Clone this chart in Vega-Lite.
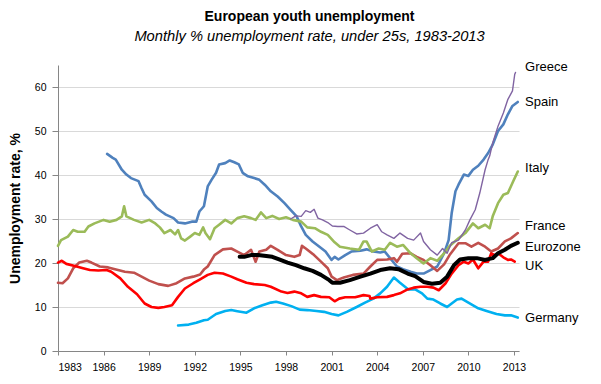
{
  "$schema": "https://vega.github.io/schema/vega-lite/v6.json",
  "width": 461,
  "height": 286,
  "autosize": {"type": "none"},
  "padding": {"left": 58, "top": 65, "right": 82, "bottom": 33},
  "background": "white",
  "title": {
    "text": "European youth unemployment",
    "subtitle": "Monthly % unemployment rate, under 25s, 1983-2013",
    "anchor": "middle", "frame": "group", "dx": 21, "offset": 17,
    "font": "Liberation Sans", "fontSize": 14, "fontWeight": "bold", "color": "#000000",
    "subtitleFont": "Liberation Sans", "subtitleFontStyle": "italic", "subtitleFontSize": 14.7, "subtitleColor": "#000000", "subtitlePadding": 5
  },
  "config": {
    "view": {"stroke": null},
    "axis": {"labelFont": "Liberation Sans", "labelColor": "#000000", "labelFontSize": 10.5, "domainColor": "#868686", "tickColor": "#868686", "titleFont": "Liberation Sans"}
  },
  "datasets": {
    "series": [
      {"s":"Germany","x":1990.9,"v":5.8},{"s":"Germany","x":1991.6,"v":6},{"s":"Germany","x":1992.1,"v":6.4},{"s":"Germany","x":1992.6,"v":7},{"s":"Germany","x":1992.85,"v":7.1},{"s":"Germany","x":1993.4,"v":8.4},{"s":"Germany","x":1994,"v":9.1},{"s":"Germany","x":1994.4,"v":9.3},{"s":"Germany","x":1994.8,"v":9.05},{"s":"Germany","x":1995.4,"v":8.7},{"s":"Germany","x":1995.9,"v":9.7},{"s":"Germany","x":1996.45,"v":10.4},{"s":"Germany","x":1997,"v":11},{"s":"Germany","x":1997.35,"v":11.2},{"s":"Germany","x":1997.8,"v":10.8},{"s":"Germany","x":1998.35,"v":10.2},{"s":"Germany","x":1998.9,"v":9.4},{"s":"Germany","x":1999.4,"v":9.3},{"s":"Germany","x":2000,"v":9.1},{"s":"Germany","x":2000.5,"v":8.9},{"s":"Germany","x":2001,"v":8.4},{"s":"Germany","x":2001.45,"v":8.1},{"s":"Germany","x":2002,"v":8.9},{"s":"Germany","x":2002.65,"v":10},{"s":"Germany","x":2003.2,"v":11},{"s":"Germany","x":2003.75,"v":11.9},{"s":"Germany","x":2004.2,"v":13.1},{"s":"Germany","x":2004.65,"v":14.6},{"s":"Germany","x":2005.1,"v":16.7},{"s":"Germany","x":2005.5,"v":15.5},{"s":"Germany","x":2006.05,"v":14},{"s":"Germany","x":2006.5,"v":14},{"s":"Germany","x":2006.95,"v":13.1},{"s":"Germany","x":2007.3,"v":11.9},{"s":"Germany","x":2007.7,"v":11.7},{"s":"Germany","x":2008.15,"v":10.8},{"s":"Germany","x":2008.6,"v":10},{"s":"Germany","x":2008.9,"v":10.8},{"s":"Germany","x":2009.25,"v":11.7},{"s":"Germany","x":2009.55,"v":11.9},{"s":"Germany","x":2010,"v":11},{"s":"Germany","x":2010.65,"v":9.7},{"s":"Germany","x":2011.2,"v":9.1},{"s":"Germany","x":2011.85,"v":8.4},{"s":"Germany","x":2012.4,"v":8.1},{"s":"Germany","x":2012.8,"v":8.1},{"s":"Germany","x":2013.25,"v":7.6},
      {"s":"Spain","x":1986.23,"v":44.8},{"s":"Spain","x":1986.6,"v":43.9},{"s":"Spain","x":1986.8,"v":43.5},{"s":"Spain","x":1987.2,"v":41.2},{"s":"Spain","x":1987.5,"v":40.1},{"s":"Spain","x":1987.8,"v":39.3},{"s":"Spain","x":1988.3,"v":38.6},{"s":"Spain","x":1988.5,"v":37},{"s":"Spain","x":1988.7,"v":35.5},{"s":"Spain","x":1989.15,"v":34},{"s":"Spain","x":1989.5,"v":32.5},{"s":"Spain","x":1989.8,"v":31.7},{"s":"Spain","x":1990.1,"v":31},{"s":"Spain","x":1990.6,"v":30.2},{"s":"Spain","x":1990.9,"v":29.2},{"s":"Spain","x":1991.35,"v":29},{"s":"Spain","x":1991.8,"v":29.4},{"s":"Spain","x":1992.1,"v":29.4},{"s":"Spain","x":1992.3,"v":31.7},{"s":"Spain","x":1992.6,"v":32.9},{"s":"Spain","x":1992.85,"v":37.4},{"s":"Spain","x":1993.1,"v":38.9},{"s":"Spain","x":1993.4,"v":40.5},{"s":"Spain","x":1993.6,"v":42.4},{"s":"Spain","x":1994,"v":42.7},{"s":"Spain","x":1994.3,"v":43.3},{"s":"Spain","x":1994.6,"v":42.9},{"s":"Spain","x":1994.9,"v":42.4},{"s":"Spain","x":1995.15,"v":40.5},{"s":"Spain","x":1995.5,"v":39.7},{"s":"Spain","x":1995.9,"v":39.3},{"s":"Spain","x":1996.25,"v":38.9},{"s":"Spain","x":1996.6,"v":37.8},{"s":"Spain","x":1997,"v":36.3},{"s":"Spain","x":1997.45,"v":35.1},{"s":"Spain","x":1997.9,"v":33.6},{"s":"Spain","x":1998.3,"v":32.1},{"s":"Spain","x":1998.7,"v":30.6},{"s":"Spain","x":1999,"v":28.3},{"s":"Spain","x":1999.3,"v":26.4},{"s":"Spain","x":1999.75,"v":24.9},{"s":"Spain","x":2000.2,"v":23.7},{"s":"Spain","x":2000.6,"v":22.6},{"s":"Spain","x":2001,"v":20.7},{"s":"Spain","x":2001.2,"v":21.4},{"s":"Spain","x":2001.45,"v":20.8},{"s":"Spain","x":2001.9,"v":21.8},{"s":"Spain","x":2002.3,"v":22.6},{"s":"Spain","x":2002.9,"v":22.8},{"s":"Spain","x":2003.3,"v":23.1},{"s":"Spain","x":2003.75,"v":22.6},{"s":"Spain","x":2004.2,"v":22.4},{"s":"Spain","x":2004.5,"v":22.6},{"s":"Spain","x":2004.85,"v":21.1},{"s":"Spain","x":2005.3,"v":19.2},{"s":"Spain","x":2005.7,"v":18.6},{"s":"Spain","x":2006.2,"v":18},{"s":"Spain","x":2006.6,"v":17.6},{"s":"Spain","x":2007.05,"v":17.6},{"s":"Spain","x":2007.5,"v":18.4},{"s":"Spain","x":2007.95,"v":19.2},{"s":"Spain","x":2008.4,"v":22.2},{"s":"Spain","x":2008.7,"v":25.2},{"s":"Spain","x":2008.9,"v":31.3},{"s":"Spain","x":2009.15,"v":36.3},{"s":"Spain","x":2009.35,"v":37.8},{"s":"Spain","x":2009.7,"v":40.1},{"s":"Spain","x":2010,"v":39.8},{"s":"Spain","x":2010.3,"v":41.2},{"s":"Spain","x":2010.65,"v":42.1},{"s":"Spain","x":2011,"v":43.5},{"s":"Spain","x":2011.3,"v":45},{"s":"Spain","x":2011.6,"v":46.9},{"s":"Spain","x":2011.95,"v":50},{"s":"Spain","x":2012.3,"v":51.5},{"s":"Spain","x":2012.6,"v":53.8},{"s":"Spain","x":2012.9,"v":55.7},{"s":"Spain","x":2013.25,"v":56.6},
      {"s":"France","x":1983,"v":15.5},{"s":"France","x":1983.3,"v":15.4},{"s":"France","x":1983.65,"v":16.5},{"s":"France","x":1984,"v":18.8},{"s":"France","x":1984.4,"v":20.1},{"s":"France","x":1984.9,"v":20.5},{"s":"France","x":1985.2,"v":20.1},{"s":"France","x":1985.75,"v":19.2},{"s":"France","x":1986.3,"v":19},{"s":"France","x":1986.75,"v":18.6},{"s":"France","x":1987.4,"v":18},{"s":"France","x":1988,"v":17.8},{"s":"France","x":1988.5,"v":16.9},{"s":"France","x":1989,"v":16},{"s":"France","x":1989.6,"v":15.2},{"s":"France","x":1990.25,"v":14.8},{"s":"France","x":1990.8,"v":15.4},{"s":"France","x":1991.35,"v":16.5},{"s":"France","x":1991.9,"v":16.9},{"s":"France","x":1992.35,"v":17.4},{"s":"France","x":1992.6,"v":18.5},{"s":"France","x":1992.85,"v":19.2},{"s":"France","x":1993.3,"v":21.8},{"s":"France","x":1993.85,"v":23.1},{"s":"France","x":1994.4,"v":23.3},{"s":"France","x":1994.8,"v":22.6},{"s":"France","x":1995.25,"v":21.8},{"s":"France","x":1995.7,"v":23},{"s":"France","x":1996,"v":20.3},{"s":"France","x":1996.25,"v":22.6},{"s":"France","x":1996.7,"v":23},{"s":"France","x":1997,"v":23.9},{"s":"France","x":1997.45,"v":23},{"s":"France","x":1998,"v":21.8},{"s":"France","x":1998.55,"v":21.4},{"s":"France","x":1998.9,"v":21.8},{"s":"France","x":1999.05,"v":23.9},{"s":"France","x":1999.3,"v":23.3},{"s":"France","x":1999.85,"v":21.8},{"s":"France","x":2000.3,"v":20.3},{"s":"France","x":2000.75,"v":18.8},{"s":"France","x":2001,"v":16.9},{"s":"France","x":2001.35,"v":16.1},{"s":"France","x":2001.8,"v":16.7},{"s":"France","x":2002.4,"v":17.3},{"s":"France","x":2003.1,"v":17.6},{"s":"France","x":2003.55,"v":19.2},{"s":"France","x":2004,"v":20.7},{"s":"France","x":2004.65,"v":20.8},{"s":"France","x":2005.1,"v":21.1},{"s":"France","x":2005.3,"v":20.3},{"s":"France","x":2005.65,"v":22.1},{"s":"France","x":2006.2,"v":22.2},{"s":"France","x":2006.6,"v":21.4},{"s":"France","x":2007.05,"v":20.7},{"s":"France","x":2007.5,"v":19.5},{"s":"France","x":2007.95,"v":18.2},{"s":"France","x":2008.4,"v":19.7},{"s":"France","x":2008.8,"v":22},{"s":"France","x":2009.35,"v":24.5},{"s":"France","x":2009.8,"v":24.5},{"s":"France","x":2010.2,"v":23.7},{"s":"France","x":2010.65,"v":24.6},{"s":"France","x":2011.1,"v":23.7},{"s":"France","x":2011.5,"v":22.6},{"s":"France","x":2011.95,"v":23.3},{"s":"France","x":2012.4,"v":24.9},{"s":"France","x":2012.8,"v":25.6},{"s":"France","x":2013.25,"v":26.8},
      {"s":"Italy","x":1983,"v":23.9},{"s":"Italy","x":1983.2,"v":25.2},{"s":"Italy","x":1983.65,"v":26},{"s":"Italy","x":1984,"v":27.5},{"s":"Italy","x":1984.3,"v":27.1},{"s":"Italy","x":1984.75,"v":27.1},{"s":"Italy","x":1985,"v":28.3},{"s":"Italy","x":1985.4,"v":29},{"s":"Italy","x":1986,"v":29.8},{"s":"Italy","x":1986.4,"v":29.4},{"s":"Italy","x":1986.85,"v":29.8},{"s":"Italy","x":1987.2,"v":30.6},{"s":"Italy","x":1987.35,"v":32.9},{"s":"Italy","x":1987.5,"v":30.6},{"s":"Italy","x":1988,"v":29.8},{"s":"Italy","x":1988.5,"v":29.2},{"s":"Italy","x":1989,"v":29.8},{"s":"Italy","x":1989.4,"v":29},{"s":"Italy","x":1989.7,"v":28.1},{"s":"Italy","x":1990,"v":26.8},{"s":"Italy","x":1990.4,"v":27.5},{"s":"Italy","x":1990.7,"v":26.5},{"s":"Italy","x":1990.9,"v":27.5},{"s":"Italy","x":1991.1,"v":25.6},{"s":"Italy","x":1991.35,"v":25.1},{"s":"Italy","x":1991.7,"v":26},{"s":"Italy","x":1992,"v":26.8},{"s":"Italy","x":1992.3,"v":26.4},{"s":"Italy","x":1992.55,"v":28.1},{"s":"Italy","x":1992.7,"v":26.8},{"s":"Italy","x":1993,"v":25.4},{"s":"Italy","x":1993.3,"v":27.9},{"s":"Italy","x":1993.6,"v":28.7},{"s":"Italy","x":1994,"v":29.8},{"s":"Italy","x":1994.4,"v":29},{"s":"Italy","x":1994.8,"v":30.2},{"s":"Italy","x":1995.25,"v":30.6},{"s":"Italy","x":1995.7,"v":30.2},{"s":"Italy","x":1996,"v":29.8},{"s":"Italy","x":1996.35,"v":31.5},{"s":"Italy","x":1996.7,"v":30.2},{"s":"Italy","x":1997.1,"v":30.7},{"s":"Italy","x":1997.55,"v":30},{"s":"Italy","x":1998,"v":30.4},{"s":"Italy","x":1998.45,"v":29.8},{"s":"Italy","x":1999,"v":29.4},{"s":"Italy","x":1999.4,"v":28.1},{"s":"Italy","x":1999.9,"v":27.9},{"s":"Italy","x":2000.3,"v":27.1},{"s":"Italy","x":2000.75,"v":26.4},{"s":"Italy","x":2001.2,"v":24.7},{"s":"Italy","x":2001.55,"v":23.7},{"s":"Italy","x":2002.2,"v":23.3},{"s":"Italy","x":2002.8,"v":23},{"s":"Italy","x":2003.1,"v":24.9},{"s":"Italy","x":2003.3,"v":24.9},{"s":"Italy","x":2003.65,"v":22.6},{"s":"Italy","x":2004.1,"v":23.3},{"s":"Italy","x":2004.5,"v":23},{"s":"Italy","x":2004.85,"v":24.6},{"s":"Italy","x":2005.3,"v":23.7},{"s":"Italy","x":2005.7,"v":24.1},{"s":"Italy","x":2006.2,"v":22.2},{"s":"Italy","x":2006.6,"v":21.1},{"s":"Italy","x":2007.05,"v":19.9},{"s":"Italy","x":2007.5,"v":21.1},{"s":"Italy","x":2007.95,"v":20.5},{"s":"Italy","x":2008.4,"v":22.2},{"s":"Italy","x":2008.8,"v":24},{"s":"Italy","x":2009.35,"v":25.6},{"s":"Italy","x":2009.8,"v":26.8},{"s":"Italy","x":2010.3,"v":29},{"s":"Italy","x":2010.65,"v":27.9},{"s":"Italy","x":2011.1,"v":28.7},{"s":"Italy","x":2011.4,"v":27.9},{"s":"Italy","x":2011.6,"v":30.6},{"s":"Italy","x":2011.95,"v":33.6},{"s":"Italy","x":2012.3,"v":35.5},{"s":"Italy","x":2012.6,"v":35.9},{"s":"Italy","x":2012.95,"v":38.6},{"s":"Italy","x":2013.25,"v":40.8},
      {"s":"UK","x":1983,"v":20.1},{"s":"UK","x":1983.25,"v":20.5},{"s":"UK","x":1983.55,"v":19.8},{"s":"UK","x":1984.1,"v":19.3},{"s":"UK","x":1984.65,"v":18.8},{"s":"UK","x":1985.1,"v":18.4},{"s":"UK","x":1985.65,"v":18.3},{"s":"UK","x":1986.2,"v":18.4},{"s":"UK","x":1986.5,"v":18},{"s":"UK","x":1987.1,"v":16.5},{"s":"UK","x":1987.6,"v":14.6},{"s":"UK","x":1988.2,"v":12.9},{"s":"UK","x":1988.7,"v":10.8},{"s":"UK","x":1989.15,"v":10},{"s":"UK","x":1989.6,"v":9.8},{"s":"UK","x":1990,"v":10},{"s":"UK","x":1990.5,"v":10.4},{"s":"UK","x":1990.9,"v":12.3},{"s":"UK","x":1991.35,"v":14.2},{"s":"UK","x":1991.9,"v":15.4},{"s":"UK","x":1992.35,"v":16.3},{"s":"UK","x":1992.85,"v":17.3},{"s":"UK","x":1993.3,"v":17.8},{"s":"UK","x":1993.85,"v":17.6},{"s":"UK","x":1994.4,"v":16.9},{"s":"UK","x":1994.8,"v":16.3},{"s":"UK","x":1995.4,"v":15.5},{"s":"UK","x":1995.9,"v":15.2},{"s":"UK","x":1996.6,"v":15},{"s":"UK","x":1997,"v":14.6},{"s":"UK","x":1997.7,"v":13.5},{"s":"UK","x":1998.1,"v":13.2},{"s":"UK","x":1998.55,"v":13.5},{"s":"UK","x":1999,"v":13.1},{"s":"UK","x":1999.4,"v":12.3},{"s":"UK","x":1999.85,"v":12.7},{"s":"UK","x":2000.3,"v":12.3},{"s":"UK","x":2000.85,"v":12.2},{"s":"UK","x":2001.2,"v":11.3},{"s":"UK","x":2001.5,"v":11.9},{"s":"UK","x":2001.9,"v":12.2},{"s":"UK","x":2002.55,"v":12.2},{"s":"UK","x":2003.1,"v":12.7},{"s":"UK","x":2003.5,"v":12.5},{"s":"UK","x":2003.55,"v":11.9},{"s":"UK","x":2004,"v":12.2},{"s":"UK","x":2004.65,"v":12.3},{"s":"UK","x":2005.1,"v":12.7},{"s":"UK","x":2005.5,"v":13.1},{"s":"UK","x":2006,"v":14},{"s":"UK","x":2006.4,"v":14.4},{"s":"UK","x":2006.85,"v":14.6},{"s":"UK","x":2007.3,"v":14.6},{"s":"UK","x":2007.7,"v":14.4},{"s":"UK","x":2008.05,"v":13.8},{"s":"UK","x":2008.5,"v":15.4},{"s":"UK","x":2008.9,"v":17.6},{"s":"UK","x":2009.35,"v":19.5},{"s":"UK","x":2009.7,"v":20.3},{"s":"UK","x":2010,"v":19.9},{"s":"UK","x":2010.3,"v":20.8},{"s":"UK","x":2010.65,"v":18.8},{"s":"UK","x":2011,"v":20.3},{"s":"UK","x":2011.3,"v":20.3},{"s":"UK","x":2011.5,"v":22.2},{"s":"UK","x":2011.75,"v":21.8},{"s":"UK","x":2011.95,"v":22.2},{"s":"UK","x":2012.3,"v":21.3},{"s":"UK","x":2012.6,"v":20.7},{"s":"UK","x":2012.8,"v":20.8},{"s":"UK","x":2013.05,"v":20.3},
      {"s":"Greece","x":1998.3,"v":30},{"s":"Greece","x":1998.65,"v":30.7},{"s":"Greece","x":1999,"v":30.6},{"s":"Greece","x":1999.3,"v":31.9},{"s":"Greece","x":1999.6,"v":31.5},{"s":"Greece","x":1999.85,"v":32.2},{"s":"Greece","x":2000.1,"v":30.2},{"s":"Greece","x":2000.4,"v":29.8},{"s":"Greece","x":2000.75,"v":29.2},{"s":"Greece","x":2001.05,"v":28.4},{"s":"Greece","x":2001.4,"v":28.3},{"s":"Greece","x":2001.8,"v":28.3},{"s":"Greece","x":2002.2,"v":27.5},{"s":"Greece","x":2002.65,"v":26.6},{"s":"Greece","x":2003.1,"v":26.8},{"s":"Greece","x":2003.55,"v":27.9},{"s":"Greece","x":2004,"v":28.7},{"s":"Greece","x":2004.3,"v":27.1},{"s":"Greece","x":2004.65,"v":26.4},{"s":"Greece","x":2005.1,"v":25.6},{"s":"Greece","x":2005.5,"v":26.8},{"s":"Greece","x":2006,"v":25.6},{"s":"Greece","x":2006.4,"v":25.2},{"s":"Greece","x":2006.85,"v":26.8},{"s":"Greece","x":2007.05,"v":24.9},{"s":"Greece","x":2007.5,"v":23},{"s":"Greece","x":2007.95,"v":21.8},{"s":"Greece","x":2008.3,"v":23.3},{"s":"Greece","x":2008.6,"v":22.2},{"s":"Greece","x":2008.9,"v":24.6},{"s":"Greece","x":2009.35,"v":25.2},{"s":"Greece","x":2009.8,"v":27.5},{"s":"Greece","x":2010.1,"v":29.8},{"s":"Greece","x":2010.45,"v":32.1},{"s":"Greece","x":2010.75,"v":35.9},{"s":"Greece","x":2011.1,"v":41.2},{"s":"Greece","x":2011.3,"v":43.5},{"s":"Greece","x":2011.4,"v":44.3},{"s":"Greece","x":2011.6,"v":47.3},{"s":"Greece","x":2011.95,"v":51.1},{"s":"Greece","x":2012.3,"v":54.1},{"s":"Greece","x":2012.6,"v":57.2},{"s":"Greece","x":2012.9,"v":59.1},{"s":"Greece","x":2013.05,"v":62.9},{"s":"Greece","x":2013.1,"v":63.3},
      {"s":"Eurozone","x":1994.95,"v":21.4},{"s":"Eurozone","x":1995.25,"v":21.4},{"s":"Eurozone","x":1995.7,"v":21.8},{"s":"Eurozone","x":1996.15,"v":21.8},{"s":"Eurozone","x":1996.7,"v":21.6},{"s":"Eurozone","x":1997.1,"v":21.4},{"s":"Eurozone","x":1997.55,"v":20.8},{"s":"Eurozone","x":1998.1,"v":20.1},{"s":"Eurozone","x":1998.65,"v":19.5},{"s":"Eurozone","x":1999.2,"v":18.8},{"s":"Eurozone","x":1999.75,"v":18.2},{"s":"Eurozone","x":2000.3,"v":17.3},{"s":"Eurozone","x":2000.85,"v":16.1},{"s":"Eurozone","x":2001.05,"v":15.5},{"s":"Eurozone","x":2001.55,"v":15.5},{"s":"Eurozone","x":2002.2,"v":16.1},{"s":"Eurozone","x":2002.9,"v":16.9},{"s":"Eurozone","x":2003.55,"v":17.6},{"s":"Eurozone","x":2004.2,"v":18.4},{"s":"Eurozone","x":2004.85,"v":18.8},{"s":"Eurozone","x":2005.4,"v":18.6},{"s":"Eurozone","x":2006,"v":17.6},{"s":"Eurozone","x":2006.5,"v":17},{"s":"Eurozone","x":2007.05,"v":15.7},{"s":"Eurozone","x":2007.6,"v":15.3},{"s":"Eurozone","x":2008.15,"v":15.5},{"s":"Eurozone","x":2008.6,"v":16.9},{"s":"Eurozone","x":2009.05,"v":19.5},{"s":"Eurozone","x":2009.45,"v":20.8},{"s":"Eurozone","x":2010,"v":21.1},{"s":"Eurozone","x":2010.55,"v":21.1},{"s":"Eurozone","x":2011.1,"v":20.7},{"s":"Eurozone","x":2011.6,"v":21.1},{"s":"Eurozone","x":2011.95,"v":22.2},{"s":"Eurozone","x":2012.4,"v":23},{"s":"Eurozone","x":2012.8,"v":23.9},{"s":"Eurozone","x":2013.25,"v":24.6}
    ],
    "labels": [
      {"name":"Greece","x":2013.73,"v":64.6},
      {"name":"Spain","x":2013.73,"v":56.6},
      {"name":"Italy","x":2013.73,"v":41.5},
      {"name":"France","x":2013.73,"v":28.3},
      {"name":"Eurozone","x":2013.73,"v":23.7},
      {"name":"UK","x":2013.73,"v":19.4},
      {"name":"Germany","x":2013.73,"v":7.6}
    ]
  },
  "layer": [
    {
      "data": {"name": "series"},
      "mark": {"type": "line", "strokeJoin": "round", "strokeCap": "round"},
      "encoding": {
        "x": {"field": "x", "type": "quantitative", "scale": {"domain": [1983, 2013.33], "nice": false, "zero": false},
              "axis": {"values": [1983,1986,1989,1992,1995,1998,2001,2004,2007,2010,2013], "format": "d", "grid": false, "title": null, "tickSize": 4, "labelPadding": 7}},
        "y": {"field": "v", "type": "quantitative", "scale": {"domain": [0, 65], "nice": false},
              "axis": {"values": [0,10,20,30,40,50,60], "grid": true, "gridColor": "#d9d9d9", "tickSize": 6, "labelPadding": 6,
                       "title": "Unemployment rate, %", "titleFontSize": 14, "titleFontWeight": "bold", "titleColor": "#000000",
                       "titleX": -43, "titleY": 143, "titleAngle": -90, "titleAlign": "center", "titleBaseline": "middle"}},
        "color": {"field": "s", "type": "nominal", "legend": null,
                  "scale": {"domain": ["Germany","Spain","France","Italy","UK","Greece","Eurozone"],
                            "range": ["#00B0F0","#4F81BD","#C0504D","#9BBB59","#FF0000","#8064A2","#000000"]}},
        "strokeWidth": {
          "condition": [
            {"test": "datum.s === 'Greece'", "value": 1.4},
            {"test": "datum.s === 'Eurozone'", "value": 4}
          ],
          "value": 2.6
        }
      }
    },
    {
      "data": {"name": "labels"},
      "mark": {"type": "text", "align": "left", "baseline": "middle", "font": "Liberation Sans", "fontSize": 13, "color": "#000000"},
      "encoding": {
        "x": {"field": "x", "type": "quantitative"},
        "y": {"field": "v", "type": "quantitative"},
        "text": {"field": "name"}
      }
    }
  ]
}
